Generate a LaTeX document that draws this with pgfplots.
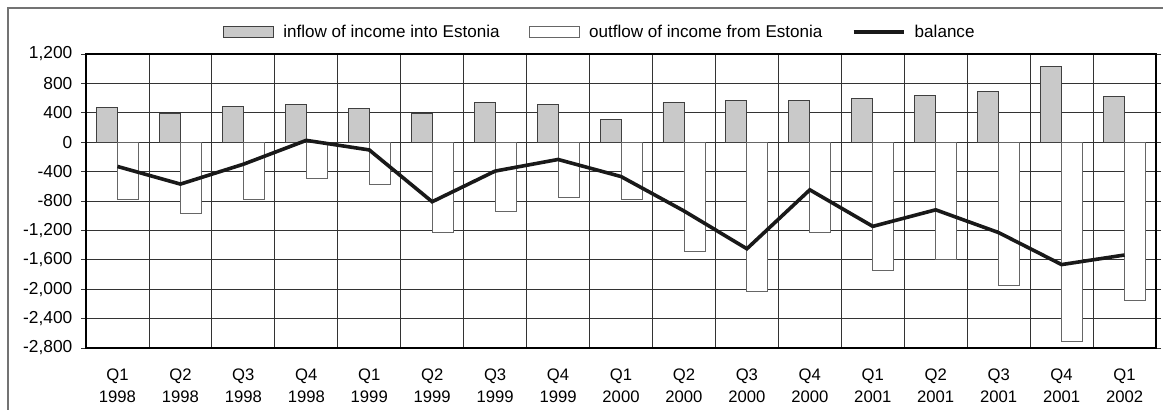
\documentclass[border=0pt]{standalone}
\usepackage{fontspec}
\setmainfont{Liberation Sans}
\usepackage{pgfplots}
\pgfplotsset{compat=1.18}
\usepackage{pgfplotstable}

\pgfplotstableread{
x in out bal
0 470 -777 -330
1 395 -963 -570
2 490 -777 -300
3 515 -496 25
4 462 -568 -105
5 390 -1226 -810
6 543 -936 -393
7 515 -755 -235
8 311 -777 -467
9 543 -1484 -935
10 570 -2024 -1450
11 570 -1226 -648
12 592 -1742 -1145
13 642 -1589 -920
14 696 -1951 -1230
15 1032 -2704 -1665
16 619 -2155 -1535
}\datatable

\newcommand\xfont{\fontsize{12.5}{16.5}\selectfont}
\newcommand\yfont{\fontsize{13}{15}\selectfont}
\newcommand\lfont{\fontsize{12.8}{15}\selectfont}

\begin{document}
\begin{tikzpicture}
\useasboundingbox (0,0) rectangle (872.25pt,307.5pt);
\draw[black!55, line width=1pt] (6pt,-5pt) -- (6pt,301.5pt) -- (880pt,301.5pt);
\begin{axis}[
  at={(64.5pt,46.5pt)}, anchor=south west,
  width=802.5pt, height=220.5pt, scale only axis,
  xmin=-0.5, xmax=16.5, ymin=-2800, ymax=1200,
  ytick={-2800,-2400,...,1200},
  xtick={0,...,16},
  xticklabels={{Q1\\1998},{Q2\\1998},{Q3\\1998},{Q4\\1998},{Q1\\1999},{Q2\\1999},{Q3\\1999},{Q4\\1999},{Q1\\2000},{Q2\\2000},{Q3\\2000},{Q4\\2000},{Q1\\2001},{Q2\\2001},{Q3\\2001},{Q4\\2001},{Q1\\2002}},
  minor xtick={0.5,1.5,...,15.5},
  xmajorgrids=false, xminorgrids=true, ymajorgrids=true,
  major grid style={black!80, line width=0.6pt},
  minor grid style={black!80, line width=0.6pt},
  axis line style={black, line width=1.1pt},
  tick align=outside,
  major tick length=3.75pt,
  xtick style={/pgfplots/major tick length=0pt, /pgfplots/minor tick length=0pt},
  ytick style={black!80, line width=0.6pt},
  /pgf/number format/assume math mode=true,
  /pgf/number format/1000 sep={,},
  xticklabel style={font=\xfont, align=center, yshift=-8pt},
  yticklabel style={font=\yfont, xshift=-3pt},
  legend style={at={(0.128,1.0748)}, anchor=west, draw=none, fill=none,
    inner sep=0pt, legend columns=3, font=\lfont,
    /tikz/every odd column/.append style={column sep=5pt},
    /tikz/every even column/.append style={column sep=20pt}},
  legend cell align=left,
]
\addplot[ybar, bar width=15.75pt, bar shift=-7.875pt, fill=black!21, draw=black!75, line width=0.6pt,
  legend image code/.code={\draw[fill=black!21, draw=black!75, line width=0.6pt] (0pt,-4.125pt) rectangle (37.5pt,4.125pt);}]
  table[x=x, y=in] {\datatable};
\addlegendentry{inflow of income into Estonia}
\addplot[ybar, bar width=15.75pt, bar shift=7.875pt, fill=white, draw=black!60, line width=0.6pt,
  legend image code/.code={\draw[fill=white, draw=black!60, line width=0.6pt] (0pt,-4.125pt) rectangle (37.5pt,4.125pt);}]
  table[x=x, y=out] {\datatable};
\addlegendentry{outflow of income from Estonia}
\addplot[color=black!90, line width=2.7pt, mark=none,
  legend image code/.code={\draw[black!90, line width=2.7pt] (0pt,0pt) -- (37.5pt,0pt);}]
  table[x=x, y=bal] {\datatable};
\addlegendentry{balance}
\end{axis}
\end{tikzpicture}
\end{document}
